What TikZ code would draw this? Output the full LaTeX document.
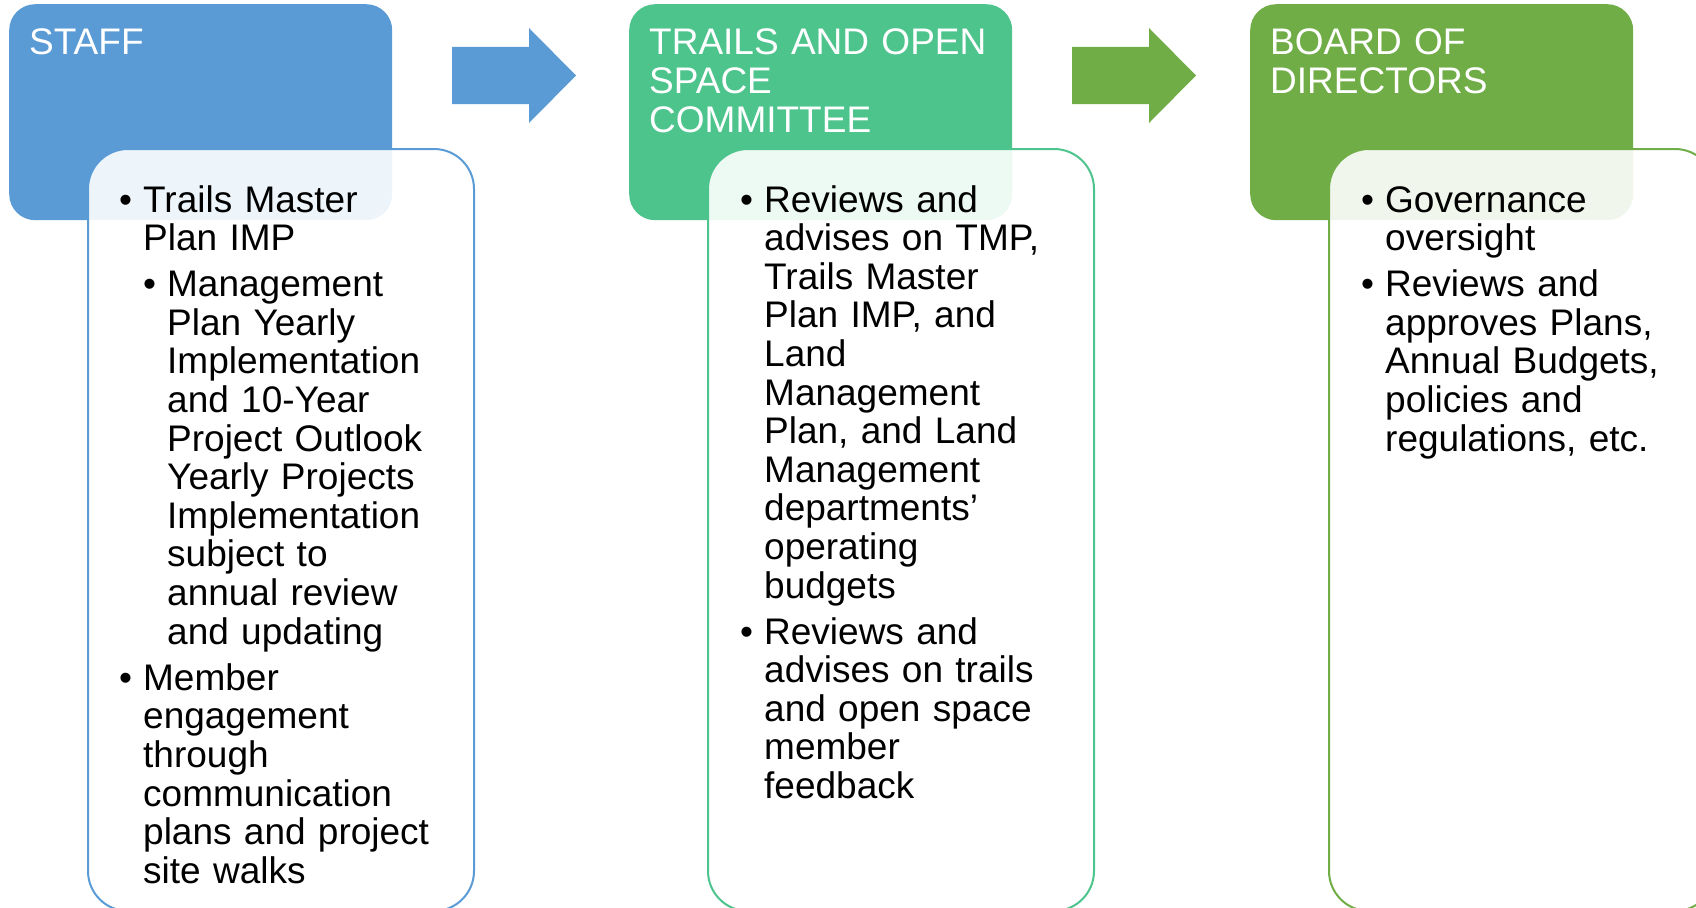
\documentclass[tikz,border=0pt]{standalone}
\usepackage{fontspec}
\setmainfont{Liberation Sans}
\usetikzlibrary{positioning}

\definecolor{staffblue}{HTML}{5B9BD5}
\definecolor{cmtgreen}{HTML}{4EC48D}
\definecolor{boardgreen}{HTML}{70AD47}

\newcommand\boxfont{\fontsize{37}{38.6}\selectfont}
% bullets, first and second level
\newcommand\itemA[1]{\hangindent=24pt\hangafter=1\noindent\makebox[24pt][l]{\textbullet}#1\par}
\newcommand\itemB[1]{\hangindent=48pt\hangafter=1\noindent\hspace*{24pt}\makebox[24pt][l]{\textbullet}#1\par}

\begin{document}
\begin{tikzpicture}[
    x=1pt, y=-1pt,
    hdr/.style={rectangle, rounded corners=26pt, minimum width=383pt, minimum height=216pt, inner sep=0pt, anchor=north west},
    panel/.style={rectangle, rounded corners=40pt, draw, line width=2pt, fill=white, fill opacity=0.9, minimum width=386pt, minimum height=762pt, inner sep=0pt, anchor=north west},
    ttl/.style={text=white, text width=350pt, align=left, inner sep=0pt, anchor=base west, font=\boxfont},
    txt/.style={text width=330pt, align=left, inner sep=0pt, anchor=base west, font=\boxfont, execute at begin node={\setlength{\parskip}{7.5pt}}}
  ]
    \useasboundingbox (0,0) rectangle (1696,907);
    \clip (0,0) rectangle (1696,907);

    % header and panel of each column
    \foreach \i/\x/\col in {1/9/staffblue, 2/629/cmtgreen, 3/1250/boardgreen} {
      \node[hdr, fill=\col] (hdr\i) at (\x,4) {};
      \node[panel, draw=\col] (body\i) at (\x+78,148) {};
    }

    % block arrows between the headers
    \foreach \j/\x/\col in {1/452/staffblue, 2/1072/boardgreen} {
      \coordinate (arr\j) at (\x,47);
      \fill[\col] (arr\j) -- ++(77,0) -- ++(0,-19) -- ++(47,47.5) -- ++(-47,47.5) -- ++(0,-19) -- ++(-77,0) -- cycle;
    }

    % titles
    \node[ttl] (ttl1) at ([xshift=20pt, yshift=-51pt] hdr1.north west) {STAFF};
    \node[ttl] (ttl2) at ([xshift=20pt, yshift=-51pt] hdr2.north west) {TRAILS AND OPEN\\SPACE\\COMMITTEE};
    \node[ttl] (ttl3) at ([xshift=20pt, yshift=-51pt] hdr3.north west) {BOARD OF\\DIRECTORS};

    % panel texts
    \node[txt] (txt1) at ([xshift=32pt, yshift=-64pt] body1.north west) {%
      \itemA{Trails Master\newline Plan IMP}%
      \itemB{Management\newline Plan Yearly\newline Implementation\newline and 10-Year\newline Project Outlook\newline Yearly Projects\newline Implementation\newline subject to\newline annual review\newline and updating}%
      \itemA{Member\newline engagement\newline through\newline communication\newline plans and project\newline site walks}};
    \node[txt] (txt2) at ([xshift=33pt, yshift=-64pt] body2.north west) {%
      \itemA{Reviews and\newline advises on TMP,\newline Trails Master\newline Plan IMP, and\newline Land\newline Management\newline Plan, and Land\newline Management\newline departments'\newline operating\newline budgets}%
      \itemA{Reviews and\newline advises on trails\newline and open space\newline member\newline feedback}};
    \node[txt] (txt3) at ([xshift=33pt, yshift=-64pt] body3.north west) {%
      \itemA{Governance\newline oversight}%
      \itemA{Reviews and\newline approves Plans,\newline Annual Budgets,\newline policies and\newline regulations, etc.}};
\end{tikzpicture}
\end{document}
